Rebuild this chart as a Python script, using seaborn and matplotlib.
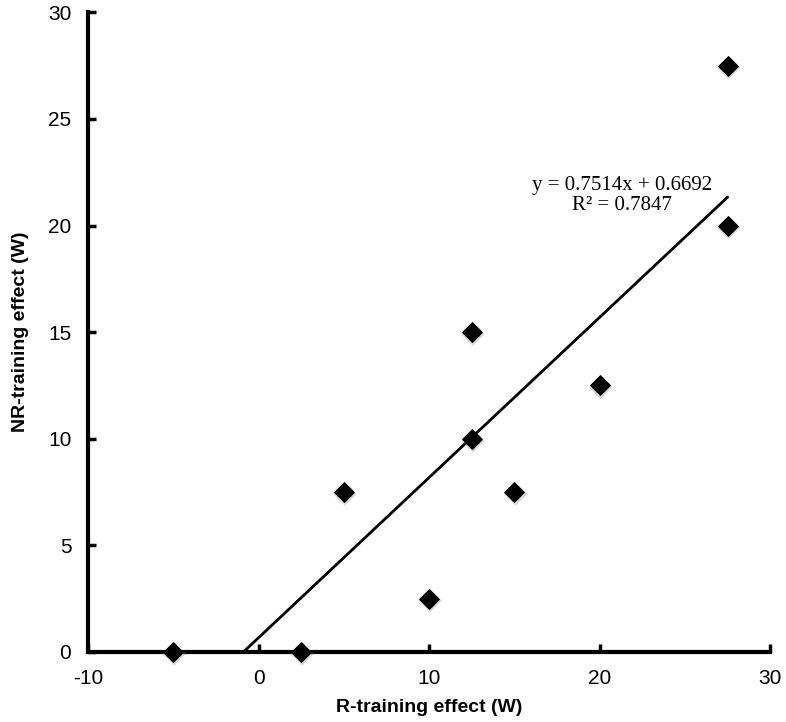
import numpy as np
import pandas as pd
import matplotlib
matplotlib.use('Agg')
import matplotlib.pyplot as plt
import matplotlib.transforms as mtransforms
import seaborn as sns

# data
r_effect = [-5, 2.5, 5, 10, 12.5, 12.5, 15, 20, 27.5, 27.5]
nr_effect = [0, 0, 7.5, 2.5, 15, 10, 7.5, 12.5, 27.5, 20]
slope = 0.7514
intercept = 0.6692
r2 = 0.7847

df = pd.DataFrame({'R': r_effect, 'NR': nr_effect})

sns.set_style('white')
plt.rcParams['font.family'] = ['Liberation Sans', 'DejaVu Sans']
plt.rcParams['axes.unicode_minus'] = False
plt.rcParams['text.color'] = 'black'
plt.rcParams['axes.labelcolor'] = 'black'
plt.rcParams['xtick.color'] = 'black'
plt.rcParams['ytick.color'] = 'black'

fig = plt.figure(figsize=(7.86, 7.22), dpi=100)
ax = fig.add_axes([0.112, 0.097, 0.868, 0.886])

# trend line (from y=0 up to the largest x)
x_line = np.array([-intercept / slope, max(r_effect)])
ax.plot(x_line, slope * x_line + intercept, color='black', lw=2, zorder=2)

# soft shadow under markers
shadow = mtransforms.offset_copy(ax.transData, fig=fig, x=1, y=-2, units='dots')
ax.scatter(df['R'], df['NR'], marker='D', s=140, color='0.55', alpha=0.35,
           edgecolors='none', transform=shadow, zorder=3, clip_on=False)
sns.scatterplot(data=df, x='R', y='NR', marker='D', s=100, color='black',
                edgecolor='black', ax=ax, zorder=4, clip_on=False)

ax.text(21.3, 21.4, f'y = {slope}x + {intercept}\nR\u00b2 = {r2}',
        ha='center', va='center', fontsize=15, family='Liberation Serif',
        linespacing=1.05)

ax.set_xlim(-10, 30)
ax.set_ylim(0, 30)
ax.set_xticks([-10, 0, 10, 20, 30])
ax.set_yticks([0, 5, 10, 15, 20, 25, 30])

for side in ['top', 'right']:
    ax.spines[side].set_visible(False)
for side in ['left', 'bottom']:
    ax.spines[side].set_linewidth(3)
    ax.spines[side].set_color('black')

ax.tick_params(direction='in', length=6, width=2.5, labelsize=15, pad=12,
               left=True, bottom=True)
ax.set_xlabel('R-training effect (W)', fontsize=14, fontweight='bold', labelpad=8)
ax.set_ylabel('NR-training effect (W)', fontsize=14, fontweight='bold', labelpad=14)

fig.savefig('out.png', dpi=100)
